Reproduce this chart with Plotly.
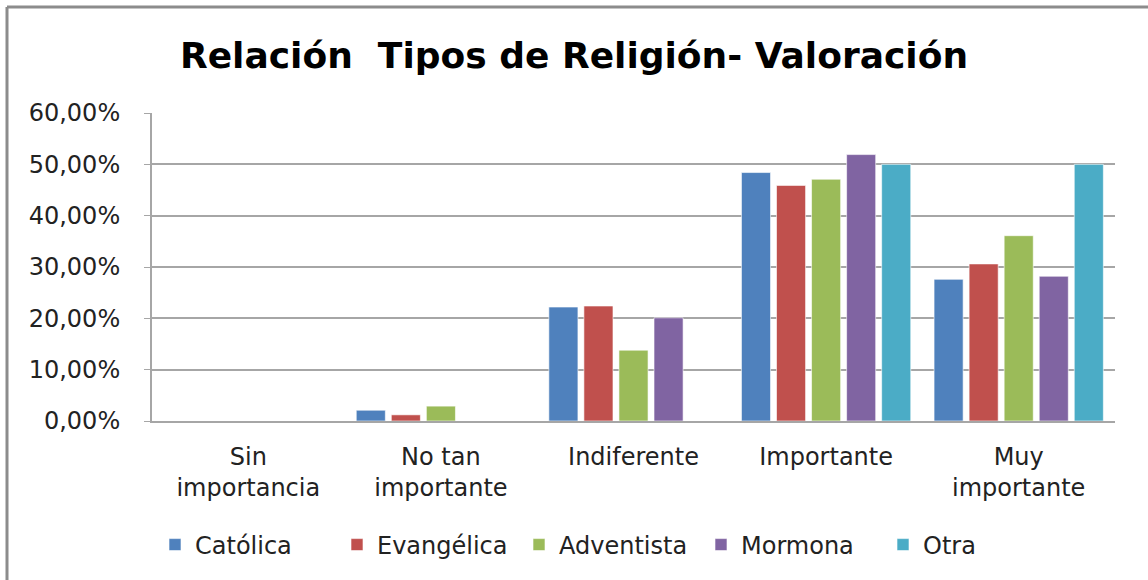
import plotly.graph_objects as go

categories = ["Sin<br>importancia", "No tan<br>importante", "Indiferente", "Importante", "Muy<br>importante"]
series_names = ["Católica", "Evangélica", "Adventista", "Mormona", "Otra"]
catolica = [0.0, 2.1, 22.2, 48.4, 27.6]
evangelica = [0.0, 1.2, 22.4, 45.9, 30.6]
adventista = [0.0, 2.9, 13.8, 47.1, 36.1]
mormona = [0.0, 0.0, 20.1, 51.9, 28.2]
otra = [0.0, 0.0, 0.0, 50.0, 50.0]
tick_vals = [0, 10, 20, 30, 40, 50, 60]
tick_text = ["0,00%", "10,00%", "20,00%", "30,00%", "40,00%", "50,00%", "60,00%"]
colors = ["#4F81BD", "#C0504D", "#9BBB59", "#8064A2", "#4BACC6"]

font_fam = "DejaVu Sans, sans-serif"
txt_col = "#222222"

fig = go.Figure()
for name, vals, col in zip(series_names, [catolica, evangelica, adventista, mormona, otra], colors):
    fig.add_trace(go.Bar(
        x=categories, y=vals, name=name,
        marker=dict(color=col, line=dict(color="rgba(255,255,255,0.6)", width=1)),
    ))

# plot area: x 152-1115, y 113-421
W, H = 1148, 580
L, R, T, B = 152, 1115, 113, 421
pw, ph = R - L, B - T

def px(x):
    return (x - L) / pw

def py(y):
    return (B - y) / ph

border = "#8C8C8C"
shapes = [
    dict(type="line", xref="paper", yref="paper", x0=px(7), x1=px(1160), y0=py(7), y1=py(7),
         line=dict(color=border, width=3)),
    dict(type="line", xref="paper", yref="paper", x0=px(7), x1=px(7), y0=py(7), y1=py(590),
         line=dict(color=border, width=3)),
]

fig.update_layout(
    width=W, height=H,
    margin=dict(l=L, r=W - R, t=T, b=H - B, pad=0),
    paper_bgcolor="white", plot_bgcolor="white",
    barmode="group", bargap=0.09, bargroupgap=0.17,
    title=dict(text="<b>Relación  Tipos de Religión- Valoración</b>", x=0.5, xanchor="center",
               y=1 - 55 / H, yanchor="middle",
               font=dict(family=font_fam, size=36, color="#000000")),
    font=dict(family=font_fam, size=24, color=txt_col),
    xaxis=dict(showgrid=False, showline=True, linecolor="#A6A6A6", linewidth=2,
               ticks="", tickfont=dict(size=24, color=txt_col), ticklabelstandoff=13),
    yaxis=dict(range=[0, 60], tickvals=tick_vals, ticktext=tick_text,
               showgrid=True, gridcolor="#A6A6A6", gridwidth=1.5,
               showline=True, linecolor="#A6A6A6", linewidth=2,
               ticks="outside", ticklen=6, tickcolor="#A6A6A6", ticklabelstandoff=19,
               tickfont=dict(size=24, color=txt_col), zeroline=False),
    legend=dict(orientation="h", x=px(155), xanchor="left", y=py(545), yanchor="middle",
                font=dict(size=24, color=txt_col), itemwidth=30, traceorder="normal",
                entrywidth=137, entrywidthmode="pixels"),
    shapes=shapes,
    showlegend=True,
)

fig.write_html("out.html", config={"displayModeBar": False},
               post_script="document.body.style.margin='0';document.body.style.padding='0';")
